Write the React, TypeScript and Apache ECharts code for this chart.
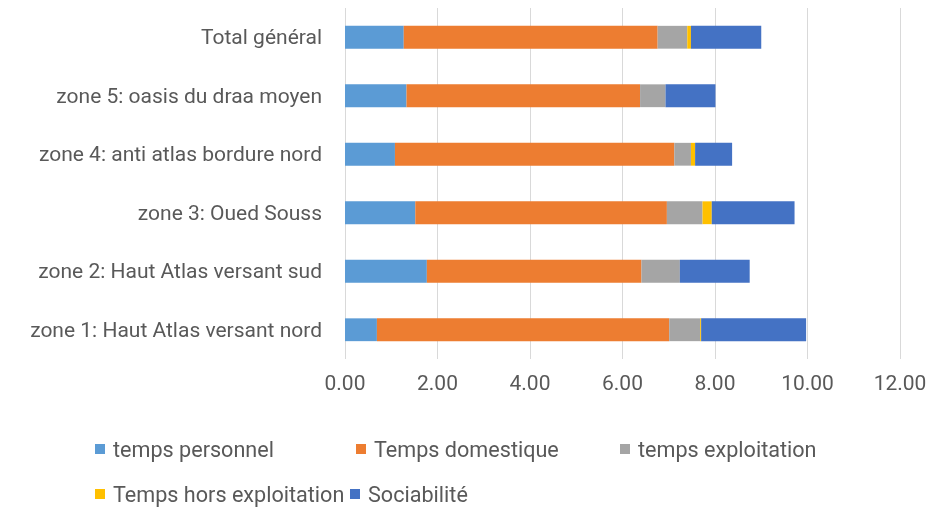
import React, { useEffect, useRef } from "react";
import * as echarts from "echarts";

const categories = [
  "zone 1: Haut Atlas versant nord",
  "zone 2: Haut Atlas versant sud",
  "zone 3: Oued Souss",
  "zone 4: anti atlas bordure nord",
  "zone 5: oasis du draa moyen",
  "Total général",
];

const seriesNames = [
  "temps personnel",
  "Temps domestique",
  "temps exploitation",
  "Temps hors exploitation",
  "Sociabilité",
];

const tempsPersonnel = [0.69, 1.77, 1.52, 1.08, 1.33, 1.27];
const tempsDomestique = [6.32, 4.64, 5.44, 6.04, 5.05, 5.49];
const tempsExploitation = [0.67, 0.83, 0.77, 0.36, 0.55, 0.64];
const tempsHorsExploitation = [0.02, 0, 0.2, 0.09, 0, 0.08];
const sociabilite = [2.27, 1.51, 1.79, 0.8, 1.08, 1.52];

const colors = ["#5B9BD5", "#ED7D31", "#A5A5A5", "#FFC000", "#4472C4"];

const FONT = "Roboto";
const TXT = "#595959";
const FS = 21;
const LEGEND_FS = 21.6;

export default function App() {
  const ref = useRef<HTMLDivElement>(null);
  useEffect(() => {
    if (!ref.current) return;
    const chart = echarts.init(ref.current, null, { renderer: "svg" });
    const values = [
      tempsPersonnel,
      tempsDomestique,
      tempsExploitation,
      tempsHorsExploitation,
      sociabilite,
    ];
    const legendPos = [
      { left: 95, top: 438 },
      { left: 356, top: 438 },
      { left: 620, top: 438 },
      { left: 95, top: 483 },
      { left: 350, top: 483 },
    ];
    chart.setOption({
      animation: false,
      color: colors,
      grid: { left: 345, right: 33, top: 8, bottom: 151, containLabel: false },
      xAxis: {
        type: "value",
        min: 0,
        max: 12,
        interval: 2,
        axisLine: { show: false },
        axisTick: { show: false },
        splitLine: { lineStyle: { color: "#D9D9D9", width: 1 } },
        axisLabel: {
          formatter: (v: number) => v.toFixed(2),
          color: TXT,
          fontFamily: FONT,
          fontSize: FS,
          margin: 13,
        },
      },
      yAxis: {
        type: "category",
        data: categories,
        axisLine: { show: false },
        axisTick: { show: false },
        axisLabel: {
          color: TXT,
          fontFamily: FONT,
          fontSize: FS,
          margin: 23,
        },
      },
      legend: seriesNames.map((n, i) => ({
        data: [n],
        left: legendPos[i].left,
        top: legendPos[i].top,
        itemWidth: 10,
        itemHeight: 10,
        icon: "rect",
        itemGap: 6,
        padding: 0,
        textStyle: {
          color: TXT,
          fontFamily: FONT,
          fontSize: LEGEND_FS,
          lineHeight: 22,
          padding: [0, 0, 0, 3],
        },
        selectedMode: false,
      })),
      series: seriesNames.map((n, i) => ({
        name: n,
        type: "bar",
        stack: "total",
        data: values[i],
        barWidth: "39%",
        itemStyle: { color: colors[i] },
      })),
    });
    return () => chart.dispose();
  }, []);
  return (
    <div
      ref={ref}
      style={{ position: "fixed", left: 0, top: 0, width: 933, height: 510 }}
    />
  );
}
